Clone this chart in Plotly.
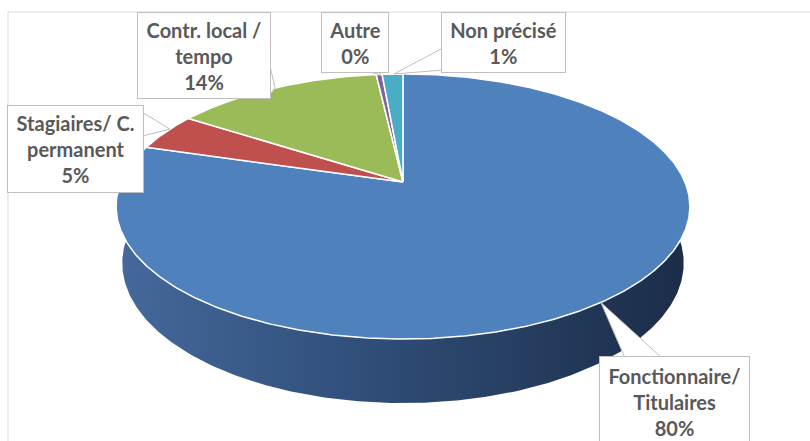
import numpy as np
import plotly.graph_objects as go

# ---------------- data ----------------
categories = ["Fonctionnaire/<br>Titulaires", "Stagiaires/ C.<br>permanent",
              "Contr. local /<br>tempo", "Autre", "Non précisé"]
values = [79.6, 4.6, 14.0, 0.4, 1.4]
colors = ["#4F81BD", "#C0504D", "#9BBB59", "#8064A2", "#4BACC6"]

# ---------------- 3D pie geometry (perspective projection) ----------------
CX, CY = 403, 182          # screen position of pie centre (top face)
FOC, D0 = 1359.0, 4.82     # focal length, camera distance
COS_T, SIN_T = 0.891, 0.454  # tilt
THICK = 0.2265             # pie thickness (unit radius)


def project(theta_deg, z):
    th = np.radians(np.asarray(theta_deg, dtype=float))
    X, Y = np.sin(th), np.cos(th)
    depth = D0 + Y * COS_T - z * SIN_T
    sx = CX + FOC * X / depth
    sy = CY - FOC * (Y * SIN_T + z * COS_T) / depth
    return sx, sy


fig = go.Figure()

# side wall (front half only is visible)
th_side = np.linspace(84, 276, 240)
tx, ty = project(th_side, 0.0)
bx, by = project(th_side[::-1], -THICK)
fig.add_trace(go.Scatter(
    x=np.concatenate([tx, bx]), y=np.concatenate([ty, by]),
    mode="lines", fill="toself", line=dict(width=0),
    fillgradient=dict(type="horizontal",
                      colorscale=[[0, "#45699c"], [0.45, "#2f4d77"], [1, "#1b2c47"]]),
    hoverinfo="skip", showlegend=False))

# top face slices
total = sum(values)
angles = np.cumsum([0] + [v / total * 360 for v in values])
mids = []
for i, v in enumerate(values):
    a0, a1 = angles[i], angles[i + 1]
    n = max(4, int((a1 - a0) * 2))
    th = np.linspace(a0, a1, n)
    rx, ry = project(th, 0.0)
    fig.add_trace(go.Scatter(
        x=np.concatenate([[CX], rx, [CX]]), y=np.concatenate([[CY], ry, [CY]]),
        mode="lines", fill="toself", fillcolor=colors[i],
        line=dict(color="white", width=1.5),
        name=categories[i].replace("<br>", " "), hoverinfo="name",
        showlegend=False))
    mids.append((a0 + a1) / 2)

# ---------------- callout labels ----------------
box_cx = [674, 75.5, 204, 355, 503.5]
box_cy = [402, 149, 55.5, 42.5, 42.5]
box_w = [149, 135, 132, 66, 123]
box_h = [90, 86, 85, 59, 59]
# wedge base: side of box and the interval (absolute px) along it
wedge_side = ["top", "right", "right", "bottom", "left"]
wedge_span = [(625, 662), (112, 136), (62, 96), (366, 384), (48, 70)]
tip_angle = list(mids)
tip_angle[1] = 296.5
tip_angle[4] = 357.8

annotations = []
shapes = [dict(type="rect", xref="x", yref="y", x0=8, y0=12, x1=830, y1=460,
               line=dict(color="#d9d9d9", width=1), layer="below")]
for i, lab in enumerate(categories):
    px, py = project(tip_angle[i], 0.0)
    x0, x1 = box_cx[i] - box_w[i] / 2, box_cx[i] + box_w[i] / 2
    y0, y1 = box_cy[i] - box_h[i] / 2, box_cy[i] + box_h[i] / 2
    s0, s1 = wedge_span[i]
    side = wedge_side[i]
    if side == "top":
        p1, p2 = (s0, y0 + 1), (s1, y0 + 1)
    elif side == "bottom":
        p1, p2 = (s0, y1 - 1), (s1, y1 - 1)
    elif side == "right":
        p1, p2 = (x1 - 1, s0), (x1 - 1, s1)
    else:
        p1, p2 = (x0 + 1, s0), (x0 + 1, s1)
    shapes.append(dict(
        type="path", xref="x", yref="y", layer="above",
        path=f"M {p1[0]:.1f},{p1[1]:.1f} L {px:.1f},{py:.1f} L {p2[0]:.1f},{p2[1]:.1f}",
        fillcolor="white", line=dict(color="#bfbfbf", width=1)))
    annotations.append(dict(
        x=box_cx[i], y=box_cy[i], xref="x", yref="y",
        text=f"<b>{lab}<br>{round(values[i])}%</b>",
        showarrow=False,
        bgcolor="white", bordercolor="#bfbfbf", borderwidth=1, borderpad=0,
        width=box_w[i], height=box_h[i], align="center", valign="middle",
        font=dict(family="Lato, 'Open Sans', sans-serif", size=20, color="#595959")))

fig.update_layout(
    width=810, height=441,
    margin=dict(l=0, r=0, t=0, b=0),
    paper_bgcolor="white", plot_bgcolor="white",
    xaxis=dict(range=[0, 810], visible=False, fixedrange=True),
    yaxis=dict(range=[441, 0], visible=False, fixedrange=True),
    annotations=annotations,
    shapes=shapes,
)

fig.write_html("out.html", config={"displayModeBar": False},
               post_script="document.body.style.margin='0';document.body.style.overflow='hidden';")
